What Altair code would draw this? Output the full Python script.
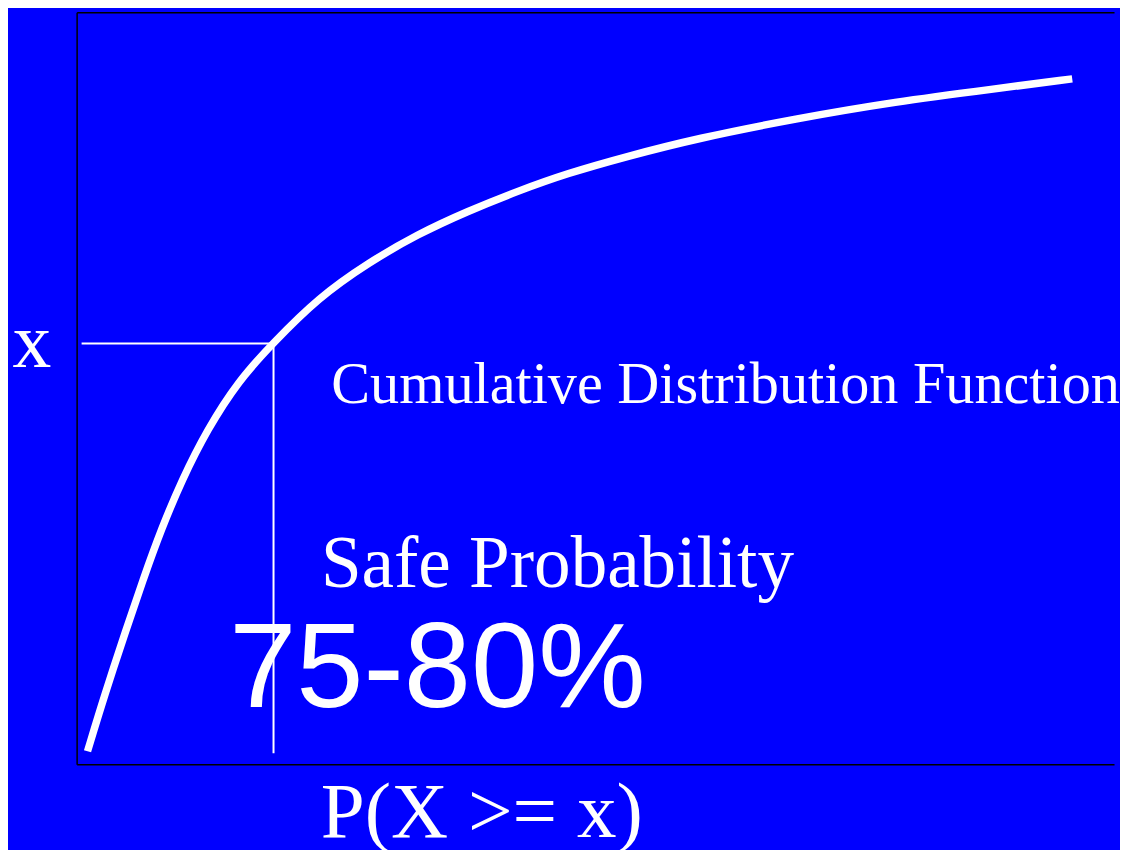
import altair as alt
import pandas as pd

# Curve of the cumulative distribution (plot units 0-100)
curve_x = [1.05, 2.68, 4.79, 6.42, 8.15, 10.16, 12.56, 15.63, 18.89, 23.30, 28.09,
           32.89, 37.68, 42.47, 47.27, 53.02, 59.73, 69.32, 78.91, 88.49, 95.97]
curve_y = [1.72, 9.13, 17.99, 24.60, 31.22, 37.83, 44.44, 51.06, 55.95, 62.04, 66.67,
           70.50, 73.54, 76.19, 78.57, 80.82, 83.20, 85.85, 88.10, 89.81, 91.14]

# Guide lines: level "x" and its probability
x_level = 55.95
p_level = 18.98
guide_x = [0.48, p_level]
guide_y = [1.46, x_level]

y_tick_label = "x"
x_title = "P(X >= x)"

# Annotations: text, x, y
ann_texts = ["Cumulative Distribution Function", "Safe Probability", "75-80%"]
ann_x = [24.55, 23.55, 14.7]
ann_y = [48.02, 23.54, 7.67]

W, H = 1043, 756
SERIF = "Liberation Serif"
SANS = "Liberation Sans"

sx = alt.Scale(domain=[0, 100], nice=False, zero=False)
sy = alt.Scale(domain=[0, 100], nice=False, zero=False)

df_curve = pd.DataFrame({"x": curve_x, "y": curve_y})
df_rules = pd.DataFrame({
    "x": [guide_x[0], guide_x[1]],
    "x2": [guide_x[1], guide_x[1]],
    "y": [guide_y[1], guide_y[1]],
    "y2": [guide_y[1], guide_y[0]],
})

curve = alt.Chart(df_curve).mark_line(
    color="white", strokeWidth=7.5, strokeCap="butt", interpolate="basis"
).encode(
    x=alt.X("x:Q", scale=sx, axis=alt.Axis(
        orient="bottom", domain=True, domainColor="black", domainWidth=1.5,
        ticks=False, tickSize=0, labels=False, grid=False,
        title=x_title, titleFont=SERIF, titleFontSize=79.5, titleColor="white",
        titleFontWeight="normal", titleX=245, titleY=73, titleAlign="left",
        titleBaseline="alphabetic")),
    y=alt.Y("y:Q", scale=sy, axis=alt.Axis(
        orient="left", domain=True, domainColor="black", domainWidth=1.5,
        ticks=False, tickSize=0, grid=False, values=[x_level],
        labelExpr=f"'{y_tick_label}'", labelFont=SERIF, labelFontSize=78,
        labelColor="white", labelPadding=26, title="")),
)

rules = alt.Chart(df_rules).mark_rule(color="white", strokeWidth=2).encode(
    x=alt.X("x:Q", scale=sx, axis=alt.Axis(
        orient="top", domain=True, domainColor="black", domainWidth=1.5,
        ticks=False, tickSize=0, labels=False, grid=False, title="")),
    x2="x2:Q",
    y=alt.Y("y:Q", scale=sy, axis=None),
    y2="y2:Q",
)

fonts = [SERIF, SERIF, SANS]
sizes = [58.5, 73.5, 121.5]
text_layers = []
for t, xx, yy, f, s in zip(ann_texts, ann_x, ann_y, fonts, sizes):
    d = pd.DataFrame({"t": [t], "x": [xx], "y": [yy]})
    text_layers.append(
        alt.Chart(d).mark_text(
            font=f, fontSize=s, color="white", align="left", baseline="alphabetic"
        ).encode(
            x=alt.X("x:Q", scale=sx, axis=None),
            y=alt.Y("y:Q", scale=sy, axis=None),
            text="t:N",
        )
    )

chart = alt.layer(curve, rules, *text_layers).resolve_axis(
    x="independent", y="independent"
).properties(
    width=W, height=H,
    padding={"left": 69, "top": 2, "right": 6, "bottom": 84},
    autosize=alt.AutoSizeParams(type="none"),
    background="#0000ff",
).configure_view(stroke="transparent")

chart.save("out.html", embed_options={"renderer": "svg", "actions": False})
